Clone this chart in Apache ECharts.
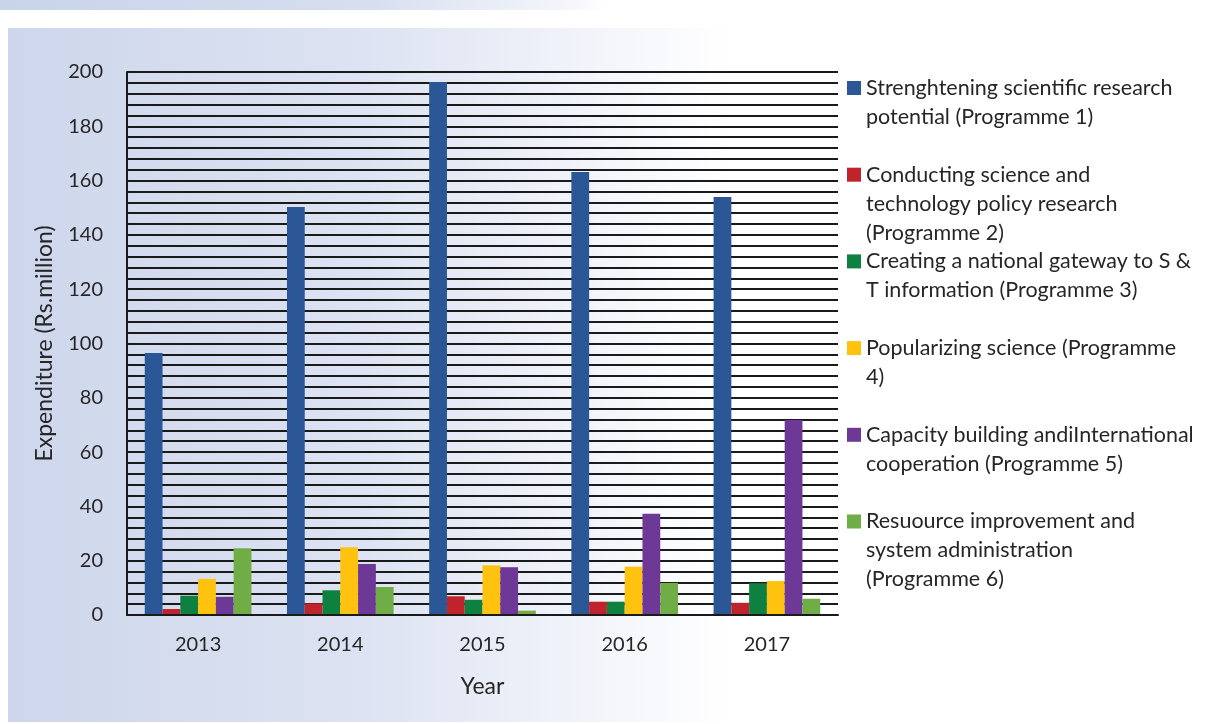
<!DOCTYPE html>
<html>
<head>
<meta charset="utf-8">
<script src="https://cdn.jsdelivr.net/npm/echarts@6/dist/echarts.min.js"></script>
<style>
html,body{margin:0;padding:0;background:#fff;}
#c{width:1211px;height:724px;}
</style>
</head>
<body>
<div id="c"></div>
<script>
const years = ['2013', '2014', '2015', '2016', '2017'];
const seriesNames = [
  'Strenghtening scientific research potential (Programme 1)',
  'Conducting science and technology policy research (Programme 2)',
  'Creating a national gateway to S & T information (Programme 3)',
  'Popularizing science (Programme 4)',
  'Capacity building andiInternational cooperation (Programme 5)',
  'Resuource improvement and system administration (Programme 6)'
];
const legendLines = [
  ['Strenghtening scientific research', 'potential (Programme 1)'],
  ['Conducting science and', 'technology policy research', '(Programme 2)'],
  ['Creating a national gateway to S &', 'T information (Programme 3)'],
  ['Popularizing science (Programme', '4)'],
  ['Capacity building andiInternational', 'cooperation (Programme 5)'],
  ['Resuource improvement and', 'system administration', '(Programme 6)']
];
const programme1 = [96.5, 150.3, 196.3, 163.2, 154.0];
const programme2 = [2.2, 4.3, 6.9, 4.9, 4.5];
const programme3 = [7.1, 9.1, 5.6, 4.9, 11.7];
const programme4 = [13.3, 25.0, 18.3, 17.8, 12.5];
const programme5 = [6.7, 18.8, 17.6, 37.3, 71.8];
const programme6 = [24.6, 10.3, 1.6, 11.8, 6.0];
const yTicks = [0, 20, 40, 60, 80, 100, 120, 140, 160, 180, 200];

const colors = ['#2B5797', '#C0232B', '#0E803F', '#FFC20E', '#6E3896', '#70AD47'];
const values = [programme1, programme2, programme3, programme4, programme5, programme6];
const FONT = 'Lato';

const chart = echarts.init(document.getElementById('c'), null, {renderer: 'canvas'});

const graphics = [
  {
    type: 'rect', z: -10, silent: true,
    shape: {x: 0, y: 0, width: 1211, height: 10},
    style: {fill: new echarts.graphic.LinearGradient(0, 0, 1, 0, [
      {offset: 0, color: '#c9d3ea'}, {offset: 0.3, color: '#d6deef'}, {offset: 0.47, color: '#f4f6fb'}, {offset: 0.5, color: '#ffffff'}, {offset: 1, color: '#ffffff'}
    ])}
  },
  {
    type: 'rect', z: -10, silent: true,
    shape: {x: 8, y: 28, width: 1203, height: 694},
    style: {fill: new echarts.graphic.LinearGradient(0, 0, 1, 0, [
      {offset: 0, color: '#cdd6eb'}, {offset: 0.3, color: '#dde3f2'}, {offset: 0.6, color: '#ffffff'}, {offset: 1, color: '#ffffff'}
    ])}
  }
];
legendLines.forEach((lines, i) => {
  const y0 = 88 + i * 86.7;
  graphics.push({
    type: 'rect', silent: true,
    shape: {x: 847, y: y0 - 7, width: 14, height: 14},
    style: {fill: colors[i]}
  });
  graphics.push({
    type: 'text', silent: true,
    x: 866, y: y0 - 14.5,
    style: {
      text: lines.join('\n'),
      font: '21.5px ' + FONT,
      fill: '#262626',
      lineHeight: 29,
      verticalAlign: 'top'
    }
  });
});

const option = {
  animation: false,
  textStyle: {fontFamily: FONT},
  grid: {left: 127, right: 373, top: 72, bottom: 109},
  graphic: graphics,
  xAxis: {
    type: 'category',
    data: years,
    name: 'Year',
    nameLocation: 'middle',
    nameGap: 60,
    nameTextStyle: {fontSize: 23, color: '#262626', fontFamily: FONT},
    axisLine: {lineStyle: {color: '#1a1a1a', width: 2}},
    axisTick: {show: false},
    axisLabel: {fontSize: 20, color: '#262626', margin: 20, fontFamily: FONT},
    z: 5
  },
  yAxis: {
    type: 'value',
    min: yTicks[0],
    max: yTicks[yTicks.length - 1],
    interval: yTicks[1] - yTicks[0],
    name: 'Expenditure (Rs.million)',
    nameLocation: 'middle',
    nameGap: 71,
    nameTextStyle: {fontSize: 23, color: '#262626', fontFamily: FONT},
    axisLine: {show: true, lineStyle: {color: '#1a1a1a', width: 2}},
    axisTick: {show: false},
    axisLabel: {fontSize: 20, color: '#262626', margin: 24, fontFamily: FONT},
    splitLine: {show: true, lineStyle: {color: '#1a1a1a', width: 2}},
    minorTick: {show: false, splitNumber: 5},
    minorSplitLine: {show: true, lineStyle: {color: '#1a1a1a', width: 2}}
  },
  series: values.map((v, i) => ({
    type: 'bar',
    name: seriesNames[i],
    data: v,
    barGap: '0%',
    barCategoryGap: '25%',
    itemStyle: {color: colors[i]}
  }))
};
chart.setOption(option);
</script>
</body>
</html>
